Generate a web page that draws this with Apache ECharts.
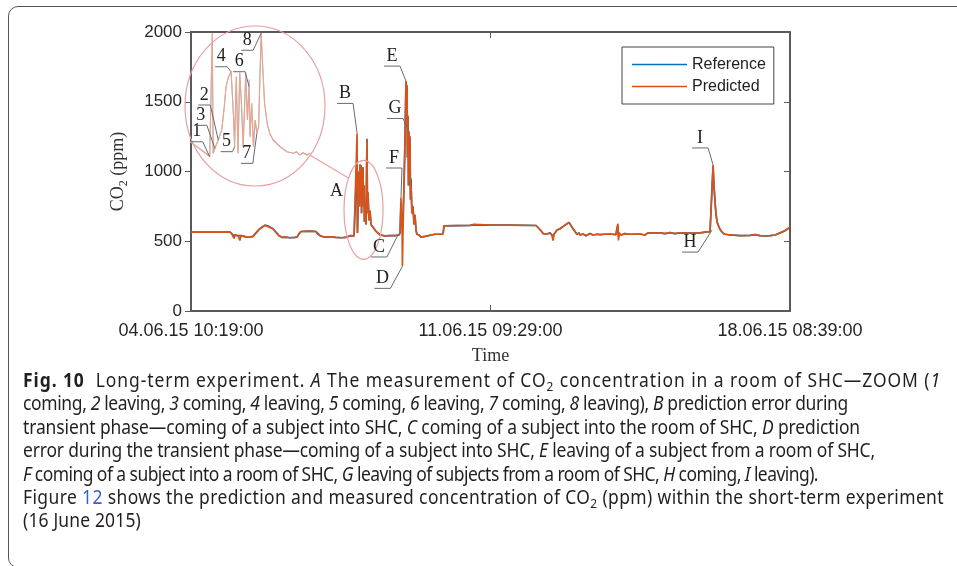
<!DOCTYPE html>
<html>
<head>
<meta charset="utf-8">
<script src="https://cdn.jsdelivr.net/npm/echarts@6/dist/echarts.min.js"></script>
<style>
  html, body { margin: 0; padding: 0; background: #fff; overflow: hidden; }
  #frame {
    position: absolute; left: 8px; top: 6px; width: 990px; height: 562px; z-index: 5;
    border: 1px solid #555; border-radius: 10px; box-sizing: border-box; pointer-events: none;
  }
  #main { position: absolute; left: 0; top: 0; width: 957px; height: 370px; }
  #caption {
    position: absolute; left: 23px; top: 369px;
    font-family: "Noto Sans", "Open Sans", sans-serif; font-size: 19px; color: #231f20;
  }
  #caption .ln {
    display: block; width: max-content; white-space: nowrap;
    height: 23.4px; line-height: 23.4px; transform-origin: 0 50%;
  }
  #caption sub { font-size: 0.68em; vertical-align: -0.3em; line-height: 0; }
  #caption .lnk { color: #3461c9; }
</style>
</head>
<body>
<div id="frame"></div>
<div id="main"></div>
<div id="caption">
  <div class="ln" data-w="918"><b>Fig. 10</b>&nbsp; Long-term experiment. <i>A</i> The measurement of CO<sub>2</sub> concentration in a room of SHC—ZOOM (<i>1</i></div>
  <div class="ln" data-w="825">coming, <i>2</i> leaving, <i>3</i> coming, <i>4</i> leaving, <i>5</i> coming, <i>6</i> leaving, <i>7</i> coming, <i>8</i> leaving), <i>B</i> prediction error during</div>
  <div class="ln" data-w="837">transient phase—coming of a subject into SHC, <i>C</i> coming of a subject into the room of SHC, <i>D</i> prediction</div>
  <div class="ln" data-w="852">error during the transient phase—coming of a subject into SHC, <i>E</i> leaving of a subject from a room of SHC,</div>
  <div class="ln" data-w="795"><i>F</i> coming of a subject into a room of SHC, <i>G</i> leaving of subjects from a room of SHC, <i>H</i> coming, <i>I</i> leaving).</div>
  <div class="ln" data-w="921">Figure <span class="lnk">12</span> shows the prediction and measured concentration of CO<sub>2</sub> (ppm) within the short-term experiment</div>
  <div class="ln" data-w="118">(16 June 2015)</div>
</div>
<script>
// x ticks: one week apart (10030 min), values in hours from the first tick
const tickLabels = ['04.06.15 10:19:00', '11.06.15 09:29:00', '18.06.15 08:39:00'];
const tickStep = 10030 / 60;

// long-term run, hours from start
const hours = [0, 21.8, 22.9, 24.0, 24.6, 26.2, 27.3, 27.9, 29.6, 31.3, 32.9, 34.6, 36.3, 38.0, 39.6, 41.3, 42.4, 43.0, 44.1, 45.8,
  47.4, 49.1, 50.8, 52.5, 55.3, 58.0, 59.2, 60.3, 61.4, 62.5, 66.4, 69.8, 70.3, 70.9, 72.0, 74.2, 77.6, 80.9, 84.3, 87.1,
  88.7, 91.0, 92.1, 92.7, 92.9, 93.2, 93.8, 94.0, 94.3, 94.6, 94.9, 95.2, 95.4, 95.7, 96.0, 96.3, 96.6, 96.8, 97.1, 97.7,
  98.2, 98.5, 98.8, 99.3, 99.9, 100.5, 101.6, 103.3, 105.5, 108.3, 111.1, 113.9, 116.1, 116.7, 117.2, 117.5, 117.8, 118.0, 118.3, 118.9,
  119.4, 120.0, 120.3, 120.6, 120.8, 121.1, 121.4, 121.7, 122.0, 122.2, 122.5, 122.8, 123.3, 123.9, 124.5, 125.0, 125.6, 126.1, 127.3, 128.4,
  130.6, 131.7, 136.2, 140.7, 141.2, 142.3, 155.7, 158.0, 159.1, 166.9, 178.1, 192.6, 193.7, 195.4, 196.5, 198.7, 200.4, 201.5, 202.1, 202.6,
  204.3, 206.0, 207.6, 209.3, 211.0, 212.1, 213.2, 214.3, 215.4, 216.6, 217.1, 218.8, 220.5, 222.7, 224.4, 226.6, 228.3, 231.1, 233.9, 237.2,
  237.8, 238.3, 238.6, 238.9, 240.0, 242.2, 245.0, 250.6, 253.4, 255.1, 256.2, 259.0, 261.8, 264.6, 267.4, 270.1, 272.9, 278.5, 284.1, 286.9,
  289.7, 290.8, 291.4, 291.9, 292.5, 293.0, 293.6, 294.7, 295.8, 297.5, 300.8, 306.4, 312.0, 314.8, 317.6, 320.4, 323.2, 326.0, 328.8, 331.5,
  334.3];
const predicted = [565, 565, 550, 520, 548, 540, 505, 540, 535, 530, 530, 535, 560, 585, 600, 615, 622, 605, 610, 590,
  565, 540, 528, 530, 525, 528, 530, 555, 570, 575, 573, 570, 555, 560, 540, 530, 532, 528, 525, 530,
  540, 538, 545, 1273, 560, 700, 1000, 750, 1050, 800, 1045, 700, 1000, 820, 1030, 750, 900, 640, 780, 620,
  1225, 700, 850, 650, 720, 620, 600, 570, 545, 538, 540, 540, 545, 560, 810, 600, 700, 320, 560, 900,
  1200, 1648, 1500, 1620, 1100, 1400, 900, 1287, 950, 1250, 800, 900, 700, 750, 620, 690, 580, 550, 545, 530,
  535, 548, 550, 552, 610, 615, 614, 622, 612, 616, 615, 613, 600, 575, 555, 552, 560, 540, 505, 550,
  580, 590, 605, 620, 635, 625, 590, 570, 550, 560, 545, 552, 540, 555, 545, 550, 548, 550, 552, 548,
  600, 625, 505, 560, 545, 555, 550, 552, 545, 560, 555, 558, 560, 555, 562, 555, 560, 558, 560, 565,
  568, 580, 1047, 900, 780, 700, 640, 600, 575, 552, 545, 540, 542, 548, 540, 538, 540, 545, 560, 575,
  600];
const reference = [565, 565, 552, 540, 548, 540, 530, 540, 535, 530, 530, 535, 560, 585, 600, 615, 622, 610, 610, 590,
  565, 540, 528, 530, 525, 528, 530, 555, 570, 575, 573, 570, 565, 560, 540, 530, 532, 528, 525, 530,
  540, 538, 545, 1100, 560, 700, 1000, 750, 1050, 800, 1045, 700, 1000, 820, 1030, 750, 900, 640, 780, 620,
  1235, 700, 850, 650, 720, 620, 600, 570, 545, 538, 540, 540, 545, 560, 780, 600, 700, 560, 560, 900,
  1200, 1640, 1500, 1610, 1100, 1400, 900, 1280, 950, 1250, 800, 950, 700, 750, 620, 690, 580, 550, 545, 530,
  535, 548, 550, 552, 610, 615, 614, 618, 612, 616, 615, 613, 600, 575, 555, 552, 560, 545, 530, 550,
  580, 590, 605, 620, 635, 625, 590, 570, 550, 560, 545, 552, 540, 555, 545, 550, 548, 550, 552, 548,
  590, 610, 530, 560, 545, 555, 550, 552, 545, 560, 555, 558, 560, 555, 562, 555, 560, 558, 560, 565,
  568, 580, 1040, 900, 780, 700, 640, 600, 575, 552, 545, 540, 542, 548, 540, 538, 540, 545, 560, 575,
  600];

// ZOOM of region A (magnified inset)
const insetHours = [92.0, 92.8, 93.6, 94.3, 94.5, 94.6, 94.7, 94.9, 95.3, 95.7, 96.0, 96.2, 96.5, 96.8, 97.1, 97.2, 97.4, 97.6, 97.8, 98.0,
  98.2, 98.5, 98.7, 98.9, 99.0, 99.2, 99.4, 99.6, 99.8, 100.0, 100.3, 100.5, 100.7, 101.0, 101.3, 101.7, 102.5, 103.3, 104.1, 104.4,
  104.8, 105.2, 105.6, 106.0];
const insetPredicted = [613, 582, 551, 520, 531, 1280, 541, 572, 623, 685, 828, 951, 1013, 1043, 746, 582, 1013, 541, 1033, 849,
  582, 1033, 746, 951, 643, 849, 582, 746, 664, 705, 1280, 1054, 849, 726, 664, 623, 582, 551, 541, 551,
  531, 545, 531, 541];
const insetReference = [613, 582, 551, 525, 531, 1280, 541, 572, 623, 685, 828, 951, 1013, 1043, 746, 582, 1013, 541, 1040, 849,
  582, 1033, 746, 995, 643, 849, 582, 746, 664, 705, 1280, 1054, 849, 726, 664, 623, 582, 551, 541, 551,
  531, 545, 531, 541];

// annotated events: [hours, ppm]
const eventNames = ['B', 'E', 'G', 'F', 'C', 'D', 'I', 'H'];
const eventAt = [[92.7, 1273], [120.0, 1648], [121.7, 1287], [117.2, 810], [115.5, 545], [118.0, 320], [291.4, 1047], [290.8, 580]];
const zoomNames = ['1', '2', '3', '4', '5', '6', '7', '8'];
const zoomAt = [[94.3, 520], [95.3, 623], [94.9, 572], [96.8, 1043], [97.2, 582], [98.9, 951], [99.8, 664], [100.3, 1280]];
const zoomRegion = [[85.4, 370], [107.2, 1080]];

// callout layout (pixel offset of the underline end from the point)
const eventOffset = [[-4, -30], [-6, -15], [-6, -13], [1, -30], [-11, 22], [-12, 22], [-5, -17], [-14, 22]];
const zoomOffset = [[-7, -15], [-8, -35], [-8, -23], [-4, -5], [-2, 5], [-4, -15], [-4, 30], [-8, 17]];

const blue = '#0072BD';
const orange = '#D95319';
const paleBlue = '#9cc2e0';
const paleOrange = '#eca58a';
const pink = '#e7a0a0';
const axisGray = '#5a5a5a';
const serif = '"Liberation Serif", "DejaVu Serif", serif';
const sans = '"Liberation Sans", Arial, sans-serif';

const pairs = (xs, ys) => xs.map((x, i) => [x, ys[i]]);

const boxAxis = { onZero: false, show: true, lineStyle: { color: axisGray, width: 2 } };

const chart = echarts.init(document.getElementById('main'));
chart.setOption({
  animation: false,
  backgroundColor: 'transparent',
  legend: {
    data: [
      { name: 'Reference', icon: 'rect', itemStyle: { color: blue } },
      { name: 'Predicted', icon: 'rect', itemStyle: { color: orange } }
    ],
    orient: 'vertical',
    left: 622,
    top: 47,
    padding: [9, 8, 9, 10],
    itemGap: 5,
    itemWidth: 55,
    itemHeight: 1.5,
    backgroundColor: '#fff',
    borderColor: '#444',
    borderWidth: 1,
    textStyle: { fontFamily: sans, fontSize: 16, color: '#222', lineHeight: 17 }
  },
  grid: [
    { left: 191, top: 32, width: 599, height: 283 },
    { left: 190, top: 30, width: 120, height: 130 }
  ],
  xAxis: [
    {
      type: 'value', gridIndex: 0, min: 0, max: tickStep * 2, interval: tickStep,
      name: 'Time', nameLocation: 'middle', nameGap: 36,
      nameTextStyle: { fontFamily: serif, fontSize: 18, color: '#333' },
      axisLine: boxAxis,
      axisTick: { inside: true, length: 6, lineStyle: { color: axisGray } },
      axisLabel: {
        margin: 11, fontFamily: sans, fontSize: 18, color: '#262626',
        showMinLabel: true, showMaxLabel: true,
        formatter: v => tickLabels[Math.round(v / tickStep)]
      },
      splitLine: { show: false }
    },
    {
      type: 'value', gridIndex: 0, position: 'top', min: 0, max: tickStep * 2, interval: tickStep,
      axisLine: boxAxis,
      axisTick: { show: true, inside: true, length: 6, lineStyle: { color: axisGray } },
      axisLabel: { show: false },
      splitLine: { show: false }
    },
    { type: 'value', gridIndex: 1, min: 92, max: 106, show: false }
  ],
  yAxis: [
    {
      type: 'value', gridIndex: 0, min: 0, max: 2000, interval: 500,
      name: '{a|CO}{s|2}{a| (ppm)}', nameLocation: 'middle', nameGap: 61,
      nameTextStyle: {
        color: '#333',
        rich: {
          a: { fontFamily: serif, fontSize: 18, color: '#333' },
          s: { fontFamily: serif, fontSize: 12, color: '#333', padding: [12, 0, 0, 0] }
        }
      },
      axisLine: boxAxis,
      axisTick: { show: true, inside: false, length: 6, lineStyle: { color: axisGray } },
      axisLabel: { margin: 9, fontFamily: sans, fontSize: 17, color: '#262626', formatter: v => String(v) },
      splitLine: { show: false }
    },
    {
      type: 'value', gridIndex: 0, position: 'right', min: 0, max: 2000, interval: 500,
      axisLine: boxAxis,
      axisTick: { show: true, inside: true, length: 6, lineStyle: { color: axisGray } },
      axisLabel: { show: false },
      splitLine: { show: false }
    },
    { type: 'value', gridIndex: 1, min: 500, max: 1300, show: false }
  ],
  series: [
    {
      name: 'Reference', type: 'line', xAxisIndex: 0, yAxisIndex: 0,
      data: pairs(hours, reference), symbol: 'none', showSymbol: false, color: blue,
      lineStyle: { width: 1.7, color: blue }
    },
    {
      name: 'Predicted', type: 'line', xAxisIndex: 0, yAxisIndex: 0,
      data: pairs(hours, predicted), symbol: 'none', showSymbol: false, color: orange,
      lineStyle: { width: 1.7, color: orange }
    },
    {
      name: 'Reference (zoom)', type: 'line', xAxisIndex: 2, yAxisIndex: 2,
      data: pairs(insetHours, insetReference), symbol: 'none',
      lineStyle: { width: 1.1, color: paleBlue }
    },
    {
      name: 'Predicted (zoom)', type: 'line', xAxisIndex: 2, yAxisIndex: 2,
      data: pairs(insetHours, insetPredicted), symbol: 'none',
      lineStyle: { width: 1.1, color: paleOrange }
    }
  ]
});

// annotations: magnifier circle, ellipse around A, letter callouts
function annotations() {
  const els = [];
  const mainPx = p => chart.convertToPixel({ xAxisIndex: 0, yAxisIndex: 0 }, p);
  const zoomPx = p => chart.convertToPixel({ xAxisIndex: 2, yAxisIndex: 2 }, p);
  const thin = { stroke: '#6a6a6a', lineWidth: 1 };

  function callout(pt, label, off, len) {
    const ex = pt[0] + off[0], ey = pt[1] + off[1];
    els.push({ type: 'line', silent: true, z: 20, shape: { x1: ex - len, y1: ey, x2: ex, y2: ey }, style: thin });
    els.push({ type: 'line', silent: true, z: 20, shape: { x1: ex, y1: ey, x2: pt[0], y2: pt[1] }, style: thin });
    els.push({
      type: 'text', silent: true, z: 20, x: ex - len / 2, y: ey - 1,
      style: { text: label, font: '18px ' + serif, fill: '#222', align: 'center', verticalAlign: 'bottom', textAlign: 'center', textVerticalAlign: 'bottom' }
    });
  }

  // lens
  const lens = { cx: 255, cy: 106, rx: 70, ry: 80 };
  els.push({ type: 'ellipse', silent: true, z: 15, shape: lens, style: { fill: null, stroke: pink, lineWidth: 1.2 } });

  // ellipse around region A
  const p0 = mainPx(zoomRegion[0]), p1 = mainPx(zoomRegion[1]);
  const ell = { cx: (p0[0] + p1[0]) / 2, cy: (p0[1] + p1[1]) / 2, rx: Math.abs(p1[0] - p0[0]) / 2, ry: Math.abs(p1[1] - p0[1]) / 2 };
  els.push({ type: 'ellipse', silent: true, z: 15, shape: ell, style: { fill: null, stroke: pink, lineWidth: 1.2 } });

  const t1 = 38 * Math.PI / 180, t2 = -140 * Math.PI / 180;
  els.push({
    type: 'line', silent: true, z: 15,
    shape: {
      x1: lens.cx + lens.rx * Math.cos(t1), y1: lens.cy + lens.ry * Math.sin(t1),
      x2: ell.cx + ell.rx * Math.cos(t2), y2: ell.cy + ell.ry * Math.sin(t2)
    },
    style: { stroke: pink, lineWidth: 1.2 }
  });
  els.push({
    type: 'text', silent: true, z: 20, x: ell.cx - ell.rx - 1, y: ell.cy - 19,
    style: { text: 'A', font: '18px ' + serif, fill: '#222', align: 'right', verticalAlign: 'middle', textAlign: 'right', textVerticalAlign: 'middle' }
  });

  eventNames.forEach((n, i) => callout(mainPx(eventAt[i]), n, eventOffset[i], 16));
  zoomNames.forEach((n, i) => callout(zoomPx(zoomAt[i]), n, zoomOffset[i], 12));
  return els;
}
chart.setOption({ graphic: { elements: annotations() } });

// caption: one common horizontal squeeze, then a small letter-spacing per line so each ends where the printed one does
const lines = Array.from(document.querySelectorAll('#caption .ln'));
const natural = lines.map(el => el.getBoundingClientRect().width);
const target = lines.map(el => Number(el.dataset.w));
let sumT = 0, sumN = 0;
for (let i = 0; i < 6; i++) { sumT += target[i]; sumN += natural[i]; }
const squeeze = sumT / sumN;
lines.forEach((el, i) => {
  const chars = el.textContent.length;
  const extra = target[i] / squeeze - natural[i];
  el.style.letterSpacing = (extra / chars) + 'px';
  el.style.transform = 'scaleX(' + squeeze + ')';
});
</script>
</body>
</html>
